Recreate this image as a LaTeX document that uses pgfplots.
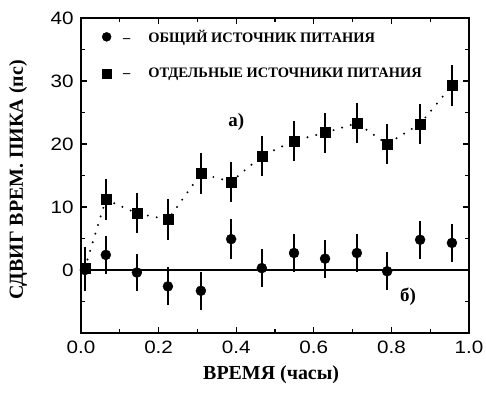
\documentclass[border=0pt]{standalone}
\usepackage{fontspec}
\setmainfont{Liberation Serif}
\newfontfamily\tickfont[FakeStretch=1.15]{Liberation Sans}
\usepackage{pgfplots}
\pgfplotsset{compat=1.18}
\begin{document}
\begin{tikzpicture}
\begin{axis}[
  name=ax,
  scale only axis,
  width=388bp, height=315bp,
  xmin=0, xmax=1, ymin=-10, ymax=40,
  xtick={0,0.2,0.4,0.6,0.8,1.0},
  xticklabels={0.0,0.2,0.4,0.6,0.8,1.0},
  minor xtick={0.1,0.3,0.5,0.7,0.9},
  ytick={0,10,20,30,40},
  yticklabels={0,10,20,30,40},
  minor ytick={-5,5,15,25,35},
  tick align=inside,
  major tick length=6bp, minor tick length=4bp,
  tick style={line width=1.2bp, black},
  axis line style={line width=1.6bp},
  ticklabel style={font=\tickfont\fontsize{18}{20}\selectfont},
  xticklabel style={yshift=-4bp},
  yticklabel style={xshift=-4bp},
  xlabel={ВРЕМЯ (часы)},
  ylabel={СДВИГ ВРЕМ. ПИКА (пс)},
  label style={font=\bfseries\fontsize{20}{22}\selectfont},
  xlabel style={at={(axis description cs:0.49,-0.133)}, anchor=center},
  ylabel style={at={(axis description cs:-0.162,0.486)}, anchor=center, rotate=0},
  legend style={at={(axis description cs:0.054,0.969)}, anchor=north west, draw=none, fill=none,
    font=\bfseries\fontsize{14.5}{16}\selectfont, row sep=20bp, inner sep=0pt},
  legend cell align=left,
  clip=false,
]
\addlegendimage{only marks, mark=*, mark size=4.5bp, black}
\addlegendimage{only marks, mark=square*, mark size=4.5bp, black}
\legend{\hspace{10bp}–\hspace{18bp}ОБЩИЙ ИСТОЧНИК ПИТАНИЯ, \hspace{10bp}–\hspace{18bp}ОТДЕЛЬНЫЕ ИСТОЧНИКИ ПИТАНИЯ}

% zero line
\addplot[forget plot, line width=2.8bp, black] coordinates {(0,0) (1,0)};

% series a: squares with dotted line
\addplot[forget plot, black, line width=2.2bp, dash pattern=on 0bp off 9bp, line cap=round]
 coordinates {(0.010,0.3) (0.064,11.2) (0.144,9.0) (0.224,8.0) (0.309,15.3) (0.387,14.0)
   (0.466,18.1) (0.549,20.5) (0.629,21.8) (0.711,23.3) (0.789,20.0) (0.874,23.2) (0.956,29.3)};
\addplot[forget plot, black, only marks, mark=square*, mark size=5bp,
  error bars/.cd, y dir=both, y explicit, error mark=none,
  error bar style={line width=2.6bp, black}]
 table[x=x, y=y, y error=e] {
 x y e
 0.010 0.3 3.3
 0.064 11.2 3.2
 0.144 9.0 3.2
 0.224 8.0 3.2
 0.309 15.3 3.2
 0.387 14.0 3.2
 0.466 18.1 3.2
 0.549 20.5 3.2
 0.629 21.8 3.2
 0.711 23.3 3.2
 0.789 20.0 3.2
 0.874 23.2 3.2
 0.956 29.3 3.2
 };

% series b: circles
\addplot[forget plot, black, only marks, mark=*, mark size=5bp,
  error bars/.cd, y dir=both, y explicit, error mark=none,
  error bar style={line width=2.6bp, black}]
 table[x=x, y=y, y error=e] {
 x y e
 0.010 0.0 3.3
 0.064 2.4 3.0
 0.144 -0.4 3.0
 0.224 -2.6 3.0
 0.309 -3.3 3.0
 0.387 4.9 3.2
 0.466 0.3 3.0
 0.549 2.7 3.0
 0.629 1.8 3.0
 0.711 2.7 3.0
 0.789 -0.2 3.0
 0.874 4.8 3.0
 0.956 4.3 3.0
 };

\node[font=\bfseries\fontsize{19}{20}\selectfont] at (axis cs:0.40,23.5) {а)};
\node[font=\bfseries\fontsize{19}{20}\selectfont] at (axis cs:0.843,-4.3) {б)};
\end{axis}
\pgfresetboundingbox
\useasboundingbox ([shift={(-81bp,-70bp)}]ax.south west) rectangle ([shift={(17bp,18bp)}]ax.north east);
\end{tikzpicture}
\end{document}
